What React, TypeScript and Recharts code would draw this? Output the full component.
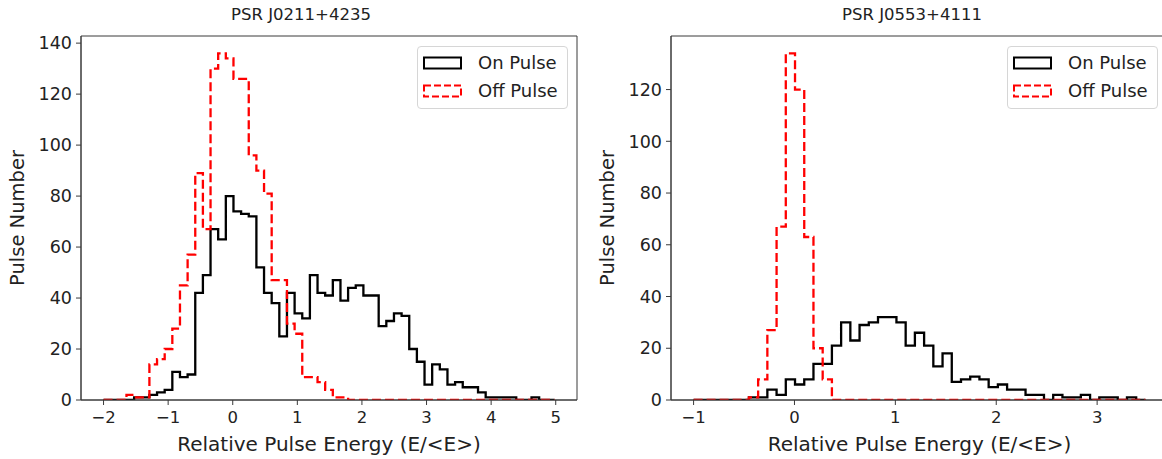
import React from 'react';
import { LineChart, Line, XAxis, YAxis, ReferenceArea } from 'recharts';

// ---------- texts ----------
const LEFT_TITLE = 'PSR J0211+4235';
const RIGHT_TITLE = 'PSR J0553+4111';
const X_LABEL = 'Relative Pulse Energy (E/<E>)';
const Y_LABEL = 'Pulse Number';
const SERIES_NAMES = ['On Pulse', 'Off Pulse'];

// ---------- left panel (PSR J0211+4235) ----------
const LEFT_BIN_START = -2.0;
const LEFT_BIN_WIDTH = 0.11831;
const LEFT_ON = [
  0, 0, 0, 0, 1, 1, 2, 3, 4, 11,
  9, 10, 42, 49, 67, 63, 80, 74, 73, 72,
  52, 42, 38, 25, 42, 34, 32, 49, 42, 41,
  47, 39, 44, 45, 41, 41, 29, 31, 34, 33,
  20, 15, 6, 14, 12, 6, 7, 5, 5, 3,
  1, 1, 1, 1, 0, 0, 1, 0, 0,
];
const LEFT_OFF = [
  0, 0, 0, 2, 1, 1, 14, 16, 20, 28,
  45, 57, 89, 67, 130, 136, 134, 126, 126, 96,
  90, 81, 47, 47, 30, 26, 9, 9, 7, 4,
  1, 1, 0, 0, 0, 0, 0, 0, 0, 0,
  0, 0, 0, 0, 0, 0, 0, 0, 0, 0,
  0, 0, 0, 0, 0, 0, 0, 0, 0,
];
const LEFT_X_TICKS = [-2, -1, 0, 1, 2, 3, 4, 5];
const LEFT_Y_TICKS = [0, 20, 40, 60, 80, 100, 120, 140];

// ---------- right panel (PSR J0553+4111) ----------
const RIGHT_BIN_START = -1.0;
const RIGHT_BIN_WIDTH = 0.0914;
const RIGHT_ON = [
  0, 0, 0, 0, 0, 0, 1, 1, 4, 2,
  8, 6, 8, 14, 14, 21, 30, 23, 29, 30,
  32, 32, 30, 21, 26, 21, 13, 18, 7, 8,
  9, 8, 5, 6, 4, 4, 2, 2, 0, 2,
  1, 1, 2, 0, 1, 1, 0, 1, 0,
];
const RIGHT_OFF = [
  0, 0, 0, 0, 0, 0, 1, 8, 27, 67,
  134, 120, 63, 20, 8, 0, 0, 0, 0, 0,
  0, 0, 0, 0, 0, 0, 0, 0, 0, 0,
  0, 0, 0, 0, 0, 0, 0, 0, 0, 0,
  0, 0, 0, 0, 0, 0, 0, 0, 0,
];
const RIGHT_X_TICKS = [-1, 0, 1, 2, 3];
const RIGHT_Y_TICKS = [0, 20, 40, 60, 80, 100, 120];

// ---------- styles ----------
const ON_COLOR = '#000000';
const OFF_COLOR = '#ff0000';
const AXIS_COLOR = '#3a3a3a';
const TEXT_COLOR = '#222222';
const FONT = '"DejaVu Sans", sans-serif';

type Row = { x: number; on: number; off: number };

// matplotlib "step" histogram outline from bin counts
function buildSteps(start: number, width: number, on: number[], off: number[]): Row[] {
  const n = on.length;
  const rows: Row[] = [{ x: start, on: 0, off: 0 }];
  for (let i = 0; i < n; i++) rows.push({ x: start + i * width, on: on[i], off: off[i] });
  rows.push({ x: start + n * width, on: on[n - 1], off: off[n - 1] });
  rows.push({ x: start + n * width, on: 0, off: 0 });
  return rows;
}

const fmt = (v: number) => (v < 0 ? `\u2212${Math.abs(v)}` : `${v}`);

type PanelProps = {
  left: number;
  width: number;
  marginRight: number;
  start: number;
  binWidth: number;
  on: number[];
  off: number[];
  xTicks: number[];
  yTicks: number[];
};

function Panel(p: PanelProps) {
  const rows = buildSteps(p.start, p.binWidth, p.on, p.off);
  const lo = p.start;
  const hi = p.start + p.on.length * p.binWidth;
  const pad = 0.05 * (hi - lo);
  const xDomain: [number, number] = [lo - pad, hi + pad];
  const yMax = Math.max(...p.on, ...p.off) * 1.05;
  return (
    <div style={{ position: 'absolute', left: p.left, top: 0, width: p.width, height: 459 }}>
      <LineChart
        width={p.width}
        height={459}
        data={rows}
        margin={{ top: 36, right: p.marginRight, bottom: 0, left: 0 }}
      >
        <XAxis
          dataKey="x"
          type="number"
          domain={xDomain}
          ticks={p.xTicks}
          allowDataOverflow
          height={59}
          tickSize={5}
          tickMargin={6}
          stroke={AXIS_COLOR}
          tickFormatter={fmt}
          tick={{ fill: TEXT_COLOR, fontSize: 16.5, fontFamily: FONT }}
          label={{
            value: X_LABEL,
            position: 'insideBottom',
            offset: 8,
            fill: TEXT_COLOR,
            fontSize: 20,
            fontFamily: FONT,
          }}
        />
        <YAxis
          type="number"
          domain={[0, yMax]}
          ticks={p.yTicks}
          allowDataOverflow
          width={81}
          tickSize={5}
          tickMargin={4}
          stroke={AXIS_COLOR}
          tick={{ fill: TEXT_COLOR, fontSize: 17.5, fontFamily: FONT }}
          label={{
            value: Y_LABEL,
            angle: -90,
            position: 'insideLeft',
            offset: 17,
            fill: TEXT_COLOR,
            fontSize: 19.5,
            fontFamily: FONT,
            style: { textAnchor: 'middle' },
          }}
        />
        <ReferenceArea
          x1={xDomain[0]}
          x2={xDomain[1]}
          y1={0}
          y2={yMax}
          fill="none"
          stroke={AXIS_COLOR}
          strokeWidth={1}
          ifOverflow="visible"
        />
        <Line
          dataKey="on"
          name={SERIES_NAMES[0]}
          type="stepAfter"
          stroke={ON_COLOR}
          strokeWidth={2.3}
          dot={false}
          activeDot={false}
          isAnimationActive={false}
        />
        <Line
          dataKey="off"
          name={SERIES_NAMES[1]}
          type="stepAfter"
          stroke={OFF_COLOR}
          strokeWidth={2.3}
          strokeDasharray="9 4"
          dot={false}
          activeDot={false}
          isAnimationActive={false}
        />
      </LineChart>
    </div>
  );
}

function LegendBox({ left, top }: { left: number; top: number }) {
  const item = (i: number, y: number) => (
    <div key={i} style={{ position: 'absolute', left: 0, top: y, height: 28, width: '100%' }}>
      <svg width={46} height={28} style={{ position: 'absolute', left: 3, top: 0 }}>
        <rect
          x={3}
          y={8.5}
          width={37}
          height={11}
          fill="none"
          stroke={i === 0 ? ON_COLOR : OFF_COLOR}
          strokeWidth={2}
          strokeDasharray={i === 0 ? undefined : '7 3'}
        />
      </svg>
      <span
        style={{
          position: 'absolute',
          left: 60,
          top: 0,
          lineHeight: '28px',
          fontSize: 18,
          fontFamily: FONT,
          color: TEXT_COLOR,
          whiteSpace: 'nowrap',
        }}
      >
        {SERIES_NAMES[i]}
      </span>
    </div>
  );
  return (
    <div
      style={{
        position: 'absolute',
        left,
        top,
        width: 151,
        height: 63,
        border: '1px solid #d6d6d6',
        borderRadius: 4,
        background: '#fff',
        boxSizing: 'border-box',
      }}
    >
      {item(0, 2)}
      {item(1, 30)}
    </div>
  );
}

function Title({ text, cx }: { text: string; cx: number }) {
  return (
    <div
      style={{
        position: 'absolute',
        left: cx,
        top: 14,
        transform: 'translate(-50%, -50%)',
        fontFamily: FONT,
        fontSize: 16.5,
        color: TEXT_COLOR,
        whiteSpace: 'nowrap',
      }}
    >
      {text}
    </div>
  );
}

export default function App() {
  return (
    <div
      style={{
        position: 'absolute',
        left: 0,
        top: 0,
        width: 1162,
        height: 459,
        overflow: 'hidden',
        background: '#ffffff',
      }}
    >
      <Panel
        left={0}
        width={590}
        marginRight={13}
        start={LEFT_BIN_START}
        binWidth={LEFT_BIN_WIDTH}
        on={LEFT_ON}
        off={LEFT_OFF}
        xTicks={LEFT_X_TICKS}
        yTicks={LEFT_Y_TICKS}
      />
      <Panel
        left={590}
        width={600}
        marginRight={22}
        start={RIGHT_BIN_START}
        binWidth={RIGHT_BIN_WIDTH}
        on={RIGHT_ON}
        off={RIGHT_OFF}
        xTicks={RIGHT_X_TICKS}
        yTicks={RIGHT_Y_TICKS}
      />
      <LegendBox left={417} top={46} />
      <LegendBox left={1007} top={46} />
      <Title text={LEFT_TITLE} cx={301} />
      <Title text={RIGHT_TITLE} cx={912} />
    </div>
  );
}
